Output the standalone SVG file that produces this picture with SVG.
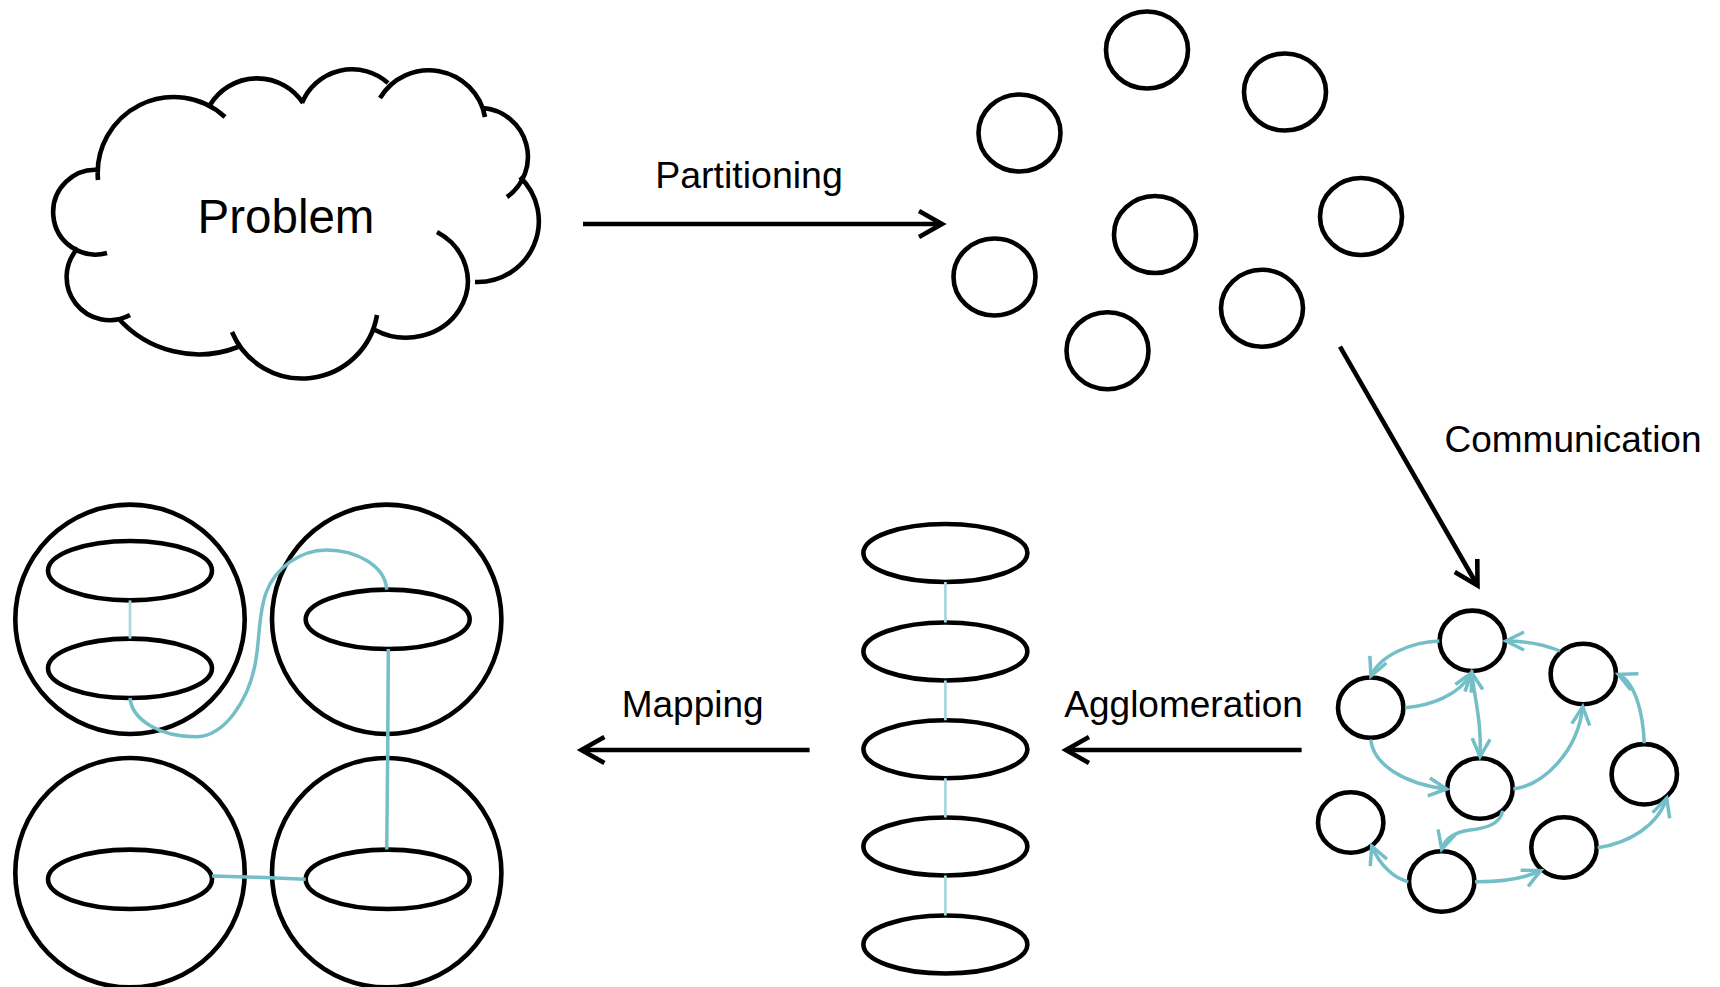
<svg xmlns="http://www.w3.org/2000/svg" width="1720" height="987" viewBox="0 0 1720 987">
<style>
.bk{fill:none;stroke:#000;stroke-width:4.6}
.nd{fill:none;stroke:#000;stroke-width:4.6}
.tl{fill:none;stroke:#74bfc7;stroke-width:3.5}
.lt{fill:none;stroke:#acd8dd;stroke-width:2.8}
.lbl{font-family:"Liberation Sans",Arial,sans-serif;font-size:37px;fill:#000;text-anchor:middle}
</style>
<defs>
<marker id="ah" markerUnits="userSpaceOnUse" markerWidth="40" markerHeight="40" viewBox="-30 -20 40 40" refX="0" refY="0" orient="auto">
<path d="M-23,-13 L0,0 L-23,13" fill="none" stroke="#000" stroke-width="4.6"/>
</marker>
<marker id="ta" markerUnits="userSpaceOnUse" markerWidth="30" markerHeight="30" viewBox="-24 -15 30 30" refX="0" refY="0" orient="auto-start-reverse">
<path d="M-18,-9 L0,0 L-18,9" fill="none" stroke="#74bfc7" stroke-width="3.5"/>
</marker>
</defs>
<rect width="1720" height="987" fill="#fff"/>

<g id="problem">
<path class="nd" d="M98,180 A76 76 0 0 1 225,117 M210,105 A55 55 0 0 1 303,103 M302,103 A54 54 0 0 1 388,83 M380,98 A57 57 0 0 1 485,117 M483,108 A49 49 0 0 1 507,197 M520,177 A61 61 0 0 1 475,282 M437,232 A60 55 0 1 1 375,330 M377,315 A76 76 0 0 1 232,332 M238,347 A108 108 0 0 1 118,318 M130,315 A43 43 0 0 1 78,248 M107,253 A42.4 42.4 0 1 1 100,170"/>
<text x="286" y="232.7" class="lbl" style="font-size:47.5px">Problem</text>
</g>

<g id="partitions">
<ellipse class="nd" cx="1147" cy="50" rx="41" ry="38.5"/>
<ellipse class="nd" cx="1285" cy="92" rx="41" ry="38.5"/>
<ellipse class="nd" cx="1019.5" cy="133" rx="41" ry="38.5"/>
<ellipse class="nd" cx="1361" cy="216.5" rx="41" ry="38.5"/>
<ellipse class="nd" cx="1155" cy="234.5" rx="41" ry="38.5"/>
<ellipse class="nd" cx="994.5" cy="277" rx="41" ry="38.5"/>
<ellipse class="nd" cx="1262" cy="308.3" rx="41" ry="38.5"/>
<ellipse class="nd" cx="1107.5" cy="350.7" rx="41" ry="38.5"/>
</g>

<g id="comm-graph">
<ellipse class="nd" cx="1472.3" cy="640.8" rx="32.7" ry="30.2"/>
<ellipse class="nd" cx="1583.3" cy="674" rx="32.7" ry="30.2"/>
<ellipse class="nd" cx="1370.7" cy="707.7" rx="32.7" ry="30.2"/>
<ellipse class="nd" cx="1480" cy="788.5" rx="32.7" ry="30.2"/>
<ellipse class="nd" cx="1644.3" cy="774.3" rx="32.7" ry="30.2"/>
<ellipse class="nd" cx="1350.7" cy="822.5" rx="32.7" ry="30.2"/>
<ellipse class="nd" cx="1564" cy="847.5" rx="32.7" ry="30.2"/>
<ellipse class="nd" cx="1441.7" cy="881.5" rx="32.7" ry="30.2"/>
</g>

<g id="agglomerated">
<ellipse class="nd" cx="945.4" cy="553" rx="82" ry="29"/>
<ellipse class="nd" cx="945.4" cy="651.5" rx="82" ry="29"/>
<ellipse class="nd" cx="945.4" cy="749.3" rx="82" ry="29"/>
<ellipse class="nd" cx="945.4" cy="846.5" rx="82" ry="29"/>
<ellipse class="nd" cx="945.4" cy="944.5" rx="82" ry="29"/>
</g>

<g id="mapped">
<circle class="nd" cx="130" cy="619.3" r="114.7"/>
<circle class="nd" cx="386.7" cy="619.3" r="114.7"/>
<circle class="nd" cx="130" cy="872.7" r="114.7"/>
<circle class="nd" cx="386.7" cy="872.7" r="114.7"/>
<ellipse class="nd" cx="130" cy="570.7" rx="82" ry="29.7"/>
<ellipse class="nd" cx="130" cy="668.3" rx="82" ry="29.7"/>
<ellipse class="nd" cx="387.7" cy="619.3" rx="82" ry="29.7"/>
<ellipse class="nd" cx="130" cy="879.3" rx="82" ry="29.7"/>
<ellipse class="nd" cx="387.7" cy="879.3" rx="82" ry="29.7"/>
</g>

<g id="connectors">
<line class="bk" x1="583" y1="224" x2="942" y2="224" marker-end="url(#ah)"/>
<text x="749" y="188.3" class="lbl" style="font-size:37.5px">Partitioning</text>
<line class="bk" x1="1340" y1="346.7" x2="1477.5" y2="585.5" marker-end="url(#ah)"/>
<text x="1573" y="451.7" class="lbl">Communication</text>
<line class="bk" x1="1301.6" y1="750" x2="1066" y2="750" marker-end="url(#ah)"/>
<text x="1183.6" y="717.3" class="lbl">Agglomeration</text>
<line class="bk" x1="809.6" y1="750" x2="581.4" y2="750" marker-end="url(#ah)"/>
<text x="692.7" y="716.7" class="lbl">Mapping</text>

<path class="tl" d="M1439.3,641 C1412,642 1380,655 1371,676" marker-end="url(#ta)"/>
<path class="tl" d="M1405,707.7 C1430,706 1460,695 1471.7,672.7" marker-end="url(#ta)"/>
<path class="tl" d="M1471.7,672.7 C1475,700 1482,725 1480,756.7" marker-start="url(#ta)" marker-end="url(#ta)"/>
<path class="tl" d="M1370.7,739.3 C1373,765 1405,784 1446.7,789" marker-end="url(#ta)"/>
<path class="tl" d="M1513.3,789 C1545,785 1578,750 1582.7,706.7" marker-end="url(#ta)"/>
<path class="tl" d="M1560,651 C1545,645 1525,641 1506,641" marker-end="url(#ta)"/>
<path class="tl" d="M1644.3,743.3 C1643,712 1635,682 1618.3,674.3" marker-end="url(#ta)"/>
<path class="tl" d="M1502.7,810.7 C1500,825 1485,828 1470,830 S1445,838 1441.7,849.3" marker-end="url(#ta)"/>
<path class="tl" d="M1408.3,881.7 C1395,879 1380,866 1371.7,846" marker-end="url(#ta)"/>
<path class="tl" d="M1475,881.7 C1500,882 1525,878 1540.7,870.7" marker-end="url(#ta)"/>
<path class="tl" d="M1597.7,847.7 C1630,843 1658,825 1666.7,798.3" marker-end="url(#ta)"/>

<path class="lt" d="M945.4,582 V622.5 M945.4,680.5 V720.3 M945.4,778.3 V817.5 M945.4,875.5 V915.5"/>

<path class="lt" d="M130,600.4 V638.6"/>
<path class="tl" d="M130,698 C132,720 160,737 196.7,736.7 C225,736 248,700 255,665 C260,640 258,615 266,593 C275,568 300,550 326.7,550 C355,550 385,565 386.7,589.6"/>
<path class="tl" d="M388.3,649 L387.7,753 L386.7,849.6"/>
<path class="tl" d="M212,876 L258.3,877.3 L305.7,879.3"/>
</g>
</svg>
